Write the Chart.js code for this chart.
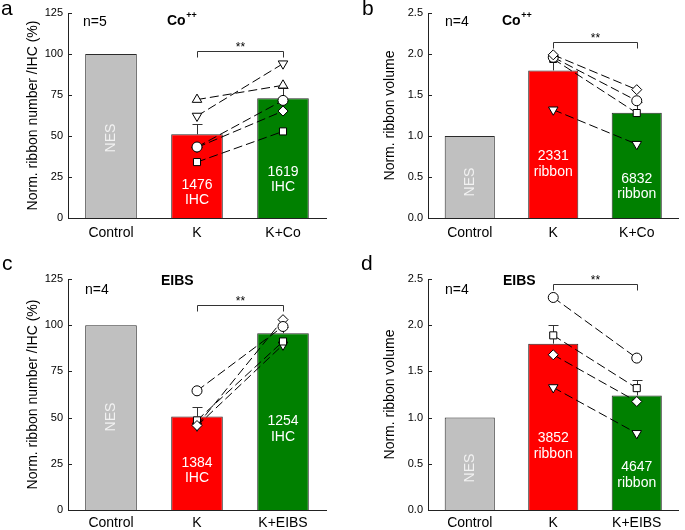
<!DOCTYPE html>
<html>
<head>
<meta charset="utf-8">
<script src="https://cdn.jsdelivr.net/npm/chart.js@4.4.0/dist/chart.umd.min.js"></script>
<style>
  body { margin: 0; background: #fff; width: 685px; height: 530px; position: relative; overflow: hidden;
         font-family: "Liberation Sans", Arial, sans-serif; }
  canvas { position: absolute; }
  .tag { position: absolute; font-size: 21px; line-height: 21px; color: #000; }
</style>
</head>
<body>
<canvas id="pa" width="342" height="265" style="left:0;top:0"></canvas>
<canvas id="pb" width="343" height="265" style="left:342px;top:0"></canvas>
<canvas id="pc" width="342" height="265" style="left:0;top:265px"></canvas>
<canvas id="pd" width="343" height="265" style="left:342px;top:265px"></canvas>
<div class="tag" style="left:1px;top:-3px">a</div>
<div class="tag" style="left:362px;top:-3px">b</div>
<div class="tag" style="left:2px;top:252px">c</div>
<div class="tag" style="left:361px;top:252px">d</div>
<script>
// ---- data ----
const catsCo = ['Control', 'K', 'K+Co'];
const catsEibs = ['Control', 'K', 'K+EIBS'];

// a: ribbon number, Co++
const meanA = [100, 51, 73];
const errTopA = [0, 57.5, 79];
const kA = [72.2, 62.2, 43.3, 43.0, 34.1];
const treatA = [80.9, 94.1, 71.7, 65.2, 52.8];
const shapesA = ['triUp', 'triDown', 'circle', 'diamond', 'square'];
const countsA = ['1476', '1619'];

// b: ribbon volume, Co++
const meanB = [1.0, 1.80, 1.285];
const errTopB = [0, 1.96, 1.42];
const kB = [1.99, 1.96, 1.94, 1.32];
const treatB = [1.565, 1.43, 1.28, 0.90];
const shapesB = ['diamond', 'circle', 'square', 'triDown'];
const countsB = ['2331', '6832'];

// c: ribbon number, EIBS
const meanC = [100, 50.6, 95.7];
const errTopC = [0, 55.5, 99];
const kC = [64.5, 45.7, 48.5, 45.5];
const treatC = [99.3, 103, 91.2, 89.4];
const shapesC = ['circle', 'diamond', 'square', 'triDown'];
const countsC = ['1384', '1254'];

// d: ribbon volume, EIBS
const meanD = [1.0, 1.80, 1.24];
const errTopD = [0, 2.005, 1.41];
const kD = [2.30, 1.89, 1.68, 1.326];
const treatD = [1.644, 1.319, 1.174, 0.83];
const shapesD = ['circle', 'square', 'diamond', 'triDown'];
const countsD = ['3852', '4647'];

const ticksPct = [0, 25, 50, 75, 100, 125];
const ticksVol = [0, 0.5, 1.0, 1.5, 2.0, 2.5];

// ---- styling ----
const FONT = '"Liberation Sans", Arial, sans-serif';
const barColors = ['#c0c0c0', '#ff0000', '#008000'];
const markers = {
  triUp:   { style: 'triangle', rot: 0,   r: 5.5 },
  triDown: { style: 'triangle', rot: 180, r: 5.5 },
  circle:  { style: 'circle',   rot: 0,   r: 5 },
  diamond: { style: 'rectRot',  rot: 0,   r: 5 },
  square:  { style: 'rect',     rot: 0,   r: 5 }
};

function buildPanel(id, p) {
  const canvas = document.getElementById(id);
  const W = canvas.width, H = canvas.height;

  const datasets = [{
    type: 'bar',
    data: p.means,
    backgroundColor: barColors,
    borderColor: '#2a2a2a',
    borderWidth: 1,
    borderSkipped: 'bottom',
    barPercentage: 0.6,
    categoryPercentage: 1,
    order: 10
  }];
  p.shapes.forEach((s, i) => {
    const m = markers[s];
    datasets.push({
      type: 'line',
      data: [null, p.k[i], p.treat[i]],
      borderColor: '#000',
      borderWidth: 1,
      borderDash: [9, 4],
      fill: false,
      order: 1,
      pointStyle: m.style,
      pointRotation: m.rot,
      pointRadius: m.r,
      pointBackgroundColor: '#fff',
      pointBorderColor: '#000',
      pointBorderWidth: 1
    });
  });

  const decorate = {
    id: 'decorate',
    afterDatasetDraw(chart, args) {
      if (args.index !== 0) return;
      const ctx = chart.ctx, y = chart.scales.y, meta = chart.getDatasetMeta(0);
      ctx.save();
      ctx.strokeStyle = '#333';
      ctx.lineWidth = 1;
      meta.data.forEach((bar, i) => {
        if (!p.errTop[i]) return;
        const x = Math.round(bar.x) + 0.5;
        const yt = Math.round(y.getPixelForValue(p.errTop[i])) + 0.5;
        ctx.beginPath();
        ctx.moveTo(x, bar.y);
        ctx.lineTo(x, yt);
        ctx.moveTo(x - 5, yt);
        ctx.lineTo(x + 5, yt);
        ctx.stroke();
      });
      ctx.restore();
    },
    afterDraw(chart) {
      const ctx = chart.ctx, x = chart.scales.x, y = chart.scales.y;
      const area = chart.chartArea;
      ctx.save();
      // inner tick marks
      ctx.strokeStyle = '#222';
      ctx.lineWidth = 1;
      p.ticks.forEach(v => {
        const py = Math.round(y.getPixelForValue(v)) + 0.5;
        ctx.beginPath();
        ctx.moveTo(area.left, py);
        ctx.lineTo(area.left + 4, py);
        ctx.stroke();
      });
      // significance bracket
      const x1 = Math.round(x.getPixelForValue(1)) + 0.5;
      const x2 = Math.round(x.getPixelForValue(2)) + 0.5;
      const by = Math.round(y.getPixelForValue(p.sig)) + 0.5;
      ctx.strokeStyle = '#333';
      ctx.beginPath();
      ctx.moveTo(x1, by + 6);
      ctx.lineTo(x1, by);
      ctx.lineTo(x2, by);
      ctx.lineTo(x2, by + 6);
      ctx.stroke();
      ctx.fillStyle = '#000';
      ctx.font = '12px ' + FONT;
      ctx.textAlign = 'center';
      ctx.textBaseline = 'alphabetic';
      ctx.fillText('**', (x1 + x2) / 2, by - 1);

      // texts inside bars
      ctx.font = '14px ' + FONT;
      ctx.textBaseline = 'middle';
      ctx.fillStyle = '#f2f2f2';
      ctx.save();
      ctx.translate(x.getPixelForValue(0), p.nesY);
      ctx.rotate(-Math.PI / 2);
      ctx.fillText('NES', 0, 0);
      ctx.restore();
      ctx.fillStyle = '#fff';
      [1, 2].forEach((c, j) => {
        const cx = x.getPixelForValue(c);
        ctx.fillText(p.counts[j], cx, p.countY[j][0]);
        ctx.fillText(p.unit, cx, p.countY[j][1]);
      });

      // n= and treatment labels
      ctx.fillStyle = '#000';
      ctx.textAlign = 'left';
      ctx.textBaseline = 'alphabetic';
      ctx.font = '14px ' + FONT;
      ctx.fillText(p.nText, p.nPos[0], p.nPos[1]);
      ctx.font = 'bold 14px ' + FONT;
      ctx.fillText(p.treatText, p.treatPos[0], p.treatPos[1]);
      if (p.sup) {
        const w = ctx.measureText(p.treatText).width;
        ctx.font = 'bold 9px ' + FONT;
        ctx.fillText(p.sup, p.treatPos[0] + w + 0.5, p.treatPos[1] - 7);
      }
      ctx.restore();
    }
  };

  return new Chart(canvas, {
    data: { labels: p.cats, datasets },
    options: {
      responsive: false,
      animation: false,
      layout: { padding: { left: 0, right: W - p.area.right, top: p.area.top, bottom: 0 } },
      plugins: { legend: { display: false }, tooltip: { enabled: false } },
      scales: {
        x: {
          type: 'category',
          offset: true,
          grid: { display: false, drawTicks: false, tickLength: 0 },
          border: { display: true, color: '#222', width: 1 },
          ticks: { color: '#000', font: { family: FONT, size: 14 }, padding: p.xPad, maxRotation: 0, autoSkip: false },
          afterFit: s => { s.height = H - p.area.bottom; }
        },
        y: {
          min: 0,
          max: p.ticks[p.ticks.length - 1],
          afterBuildTicks: s => { s.ticks = p.ticks.map(v => ({ value: v })); },
          grid: { display: false, drawTicks: false, tickLength: 0 },
          border: { display: true, color: '#222', width: 1 },
          ticks: { color: '#000', font: { family: FONT, size: 11 }, padding: 5, callback: v => p.fmt(v) },
          title: { display: true, text: p.yTitle, color: '#000', font: { family: FONT, size: 14 },
                   padding: { top: p.titleX - 8.4, bottom: 0 } },
          afterFit: s => { s.width = p.area.left; }
        }
      }
    },
    plugins: [decorate]
  });
}

const pctFmt = v => String(v);
const volFmt = v => v.toFixed(1);

buildPanel('pa', {
  cats: catsCo, means: meanA, errTop: errTopA, k: kA, treat: treatA, shapes: shapesA,
  counts: countsA, unit: 'IHC', ticks: ticksPct, fmt: pctFmt, sig: 101.8,
  yTitle: 'Norm. ribbon number /IHC (%)', titleX: 33, xPad: 7,
  area: { left: 68, right: 326, top: 13, bottom: 218 },
  nesY: 138, countY: [[185, 200], [172, 187]],
  nText: 'n=5', nPos: [83, 26], treatText: 'Co', sup: '++', treatPos: [167, 25]
});
buildPanel('pb', {
  cats: catsCo, means: meanB, errTop: errTopB, k: kB, treat: treatB, shapes: shapesB,
  counts: countsB, unit: 'ribbon', ticks: ticksVol, fmt: volFmt, sig: 2.146,
  yTitle: 'Norm. ribbon volume', titleX: 48, xPad: 7,
  area: { left: 86, right: 342, top: 13, bottom: 218 },
  nesY: 182, countY: [[156, 172], [179, 194]],
  nText: 'n=4', nPos: [103, 26], treatText: 'Co', sup: '++', treatPos: [160, 25]
});
buildPanel('pc', {
  cats: catsEibs, means: meanC, errTop: errTopC, k: kC, treat: treatC, shapes: shapesC,
  counts: countsC, unit: 'IHC', ticks: ticksPct, fmt: pctFmt, sig: 111.1,
  yTitle: 'Norm. ribbon number /IHC (%)', titleX: 33, xPad: 5,
  area: { left: 68, right: 326, top: 14, bottom: 245 },
  nesY: 152, countY: [[198, 213], [156, 172]],
  nText: 'n=4', nPos: [85, 29], treatText: 'EIBS', sup: '', treatPos: [161, 20]
});
buildPanel('pd', {
  cats: catsEibs, means: meanD, errTop: errTopD, k: kD, treat: treatD, shapes: shapesD,
  counts: countsD, unit: 'ribbon', ticks: ticksVol, fmt: volFmt, sig: 2.45,
  yTitle: 'Norm. ribbon volume', titleX: 48, xPad: 5,
  area: { left: 86, right: 342, top: 14, bottom: 245 },
  nesY: 203, countY: [[173, 189], [202, 218]],
  nText: 'n=4', nPos: [103, 29], treatText: 'EIBS', sup: '', treatPos: [161, 20]
});
</script>
</body>
</html>
